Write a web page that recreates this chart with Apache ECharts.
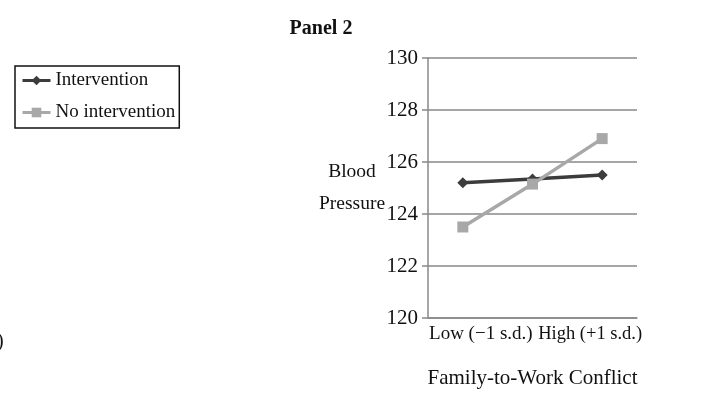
<!DOCTYPE html>
<html><head><meta charset="utf-8">
<script src="https://cdn.jsdelivr.net/npm/echarts@6/dist/echarts.min.js"></script>
<style>html,body{margin:0;padding:0;background:#fff}#c{width:720px;height:405px}</style>
</head><body><div id="c"></div>
<script>
const categories = ["Low (\u22121 s.d.)", "", "High (+1 s.d.)"];
const intervention = [125.2, 125.35, 125.5];
const noIntervention = [123.5, 125.15, 126.9];
const yTicks = [120, 122, 124, 126, 128, 130];

const FONT = "Liberation Serif";
const chart = echarts.init(document.getElementById('c'));
chart.setOption({
  animation: false,
  backgroundColor: '#fff',
  title: {text: 'Panel 2', left: 316, top: 14, textAlign: 'center',
    textStyle: {fontFamily: FONT, fontWeight: 'bold', fontSize: 20, color: '#111'}},
  legend: {
    left: 15, top: 66, orient: 'vertical', itemGap: 13, itemWidth: 28, itemHeight: 12,
    padding: [5, 4, 6, 6],
    borderColor: '#111', borderWidth: 1.5,
    textStyle: {fontFamily: FONT, fontSize: 19, color: '#111'},
    data: [
      {name: 'Intervention', lineStyle: {width: 3}},
      {name: 'No intervention', lineStyle: {width: 3}}
    ]
  },
  grid: {left: 428, right: 83, top: 58, bottom: 87},
  xAxis: {
    type: 'category', data: categories, boundaryGap: true,
    axisLine: {lineStyle: {color: '#888', width: 1.5}},
    axisTick: {show: false},
    axisLabel: {interval: 0, margin: 7, color: '#111', fontFamily: FONT, fontSize: 19,
      formatter: function (v, i) { return i === 0 ? '{a|' + v + '}' : (i === 2 ? '{b|' + v + '}' : ''); },
      rich: {a: {fontFamily: FONT, fontSize: 19, color: '#111', padding: [0, 0, 0, 36]},
             b: {fontFamily: FONT, fontSize: 18.5, color: '#111', padding: [0, 24, 0, 0]}}},
    name: 'Family-to-Work Conflict', nameLocation: 'middle', nameGap: 50,
    nameTextStyle: {fontFamily: FONT, fontSize: 21, color: '#111'}
  },
  yAxis: {
    type: 'value', min: 120, max: 130, interval: 2,
    axisLine: {show: true, lineStyle: {color: '#888', width: 1.5}},
    axisTick: {show: true, length: 6, lineStyle: {color: '#888', width: 1.5}},
    splitLine: {lineStyle: {color: '#888', width: 1.5}},
    axisLabel: {margin: 10, color: '#111', fontFamily: FONT, fontSize: 21,
      formatter: function (v) { return yTicks.indexOf(v) >= 0 ? String(v) : ''; }},
    name: 'Blood\nPressure', nameLocation: 'middle', nameRotate: 0, nameGap: 76,
    nameMoveOverlap: false,
    nameTextStyle: {fontFamily: FONT, fontSize: 19.5, color: '#111', lineHeight: 32, align: 'center'}
  },
  series: [
    {name: 'Intervention', type: 'line', data: intervention,
      symbol: 'diamond', symbolSize: 11,
      lineStyle: {color: '#3c3c3c', width: 3.5}, itemStyle: {color: '#3c3c3c'}},
    {name: 'No intervention', type: 'line', data: noIntervention,
      symbol: 'rect', symbolSize: 11,
      lineStyle: {color: '#a8a8a8', width: 3.5}, itemStyle: {color: '#a8a8a8'}}
  ],
  graphic: [
    {type: 'text', left: -3, top: 332, style: {text: ')', fontFamily: FONT, fontSize: 20, fill: '#111'}}
  ]
});
</script></body></html>
